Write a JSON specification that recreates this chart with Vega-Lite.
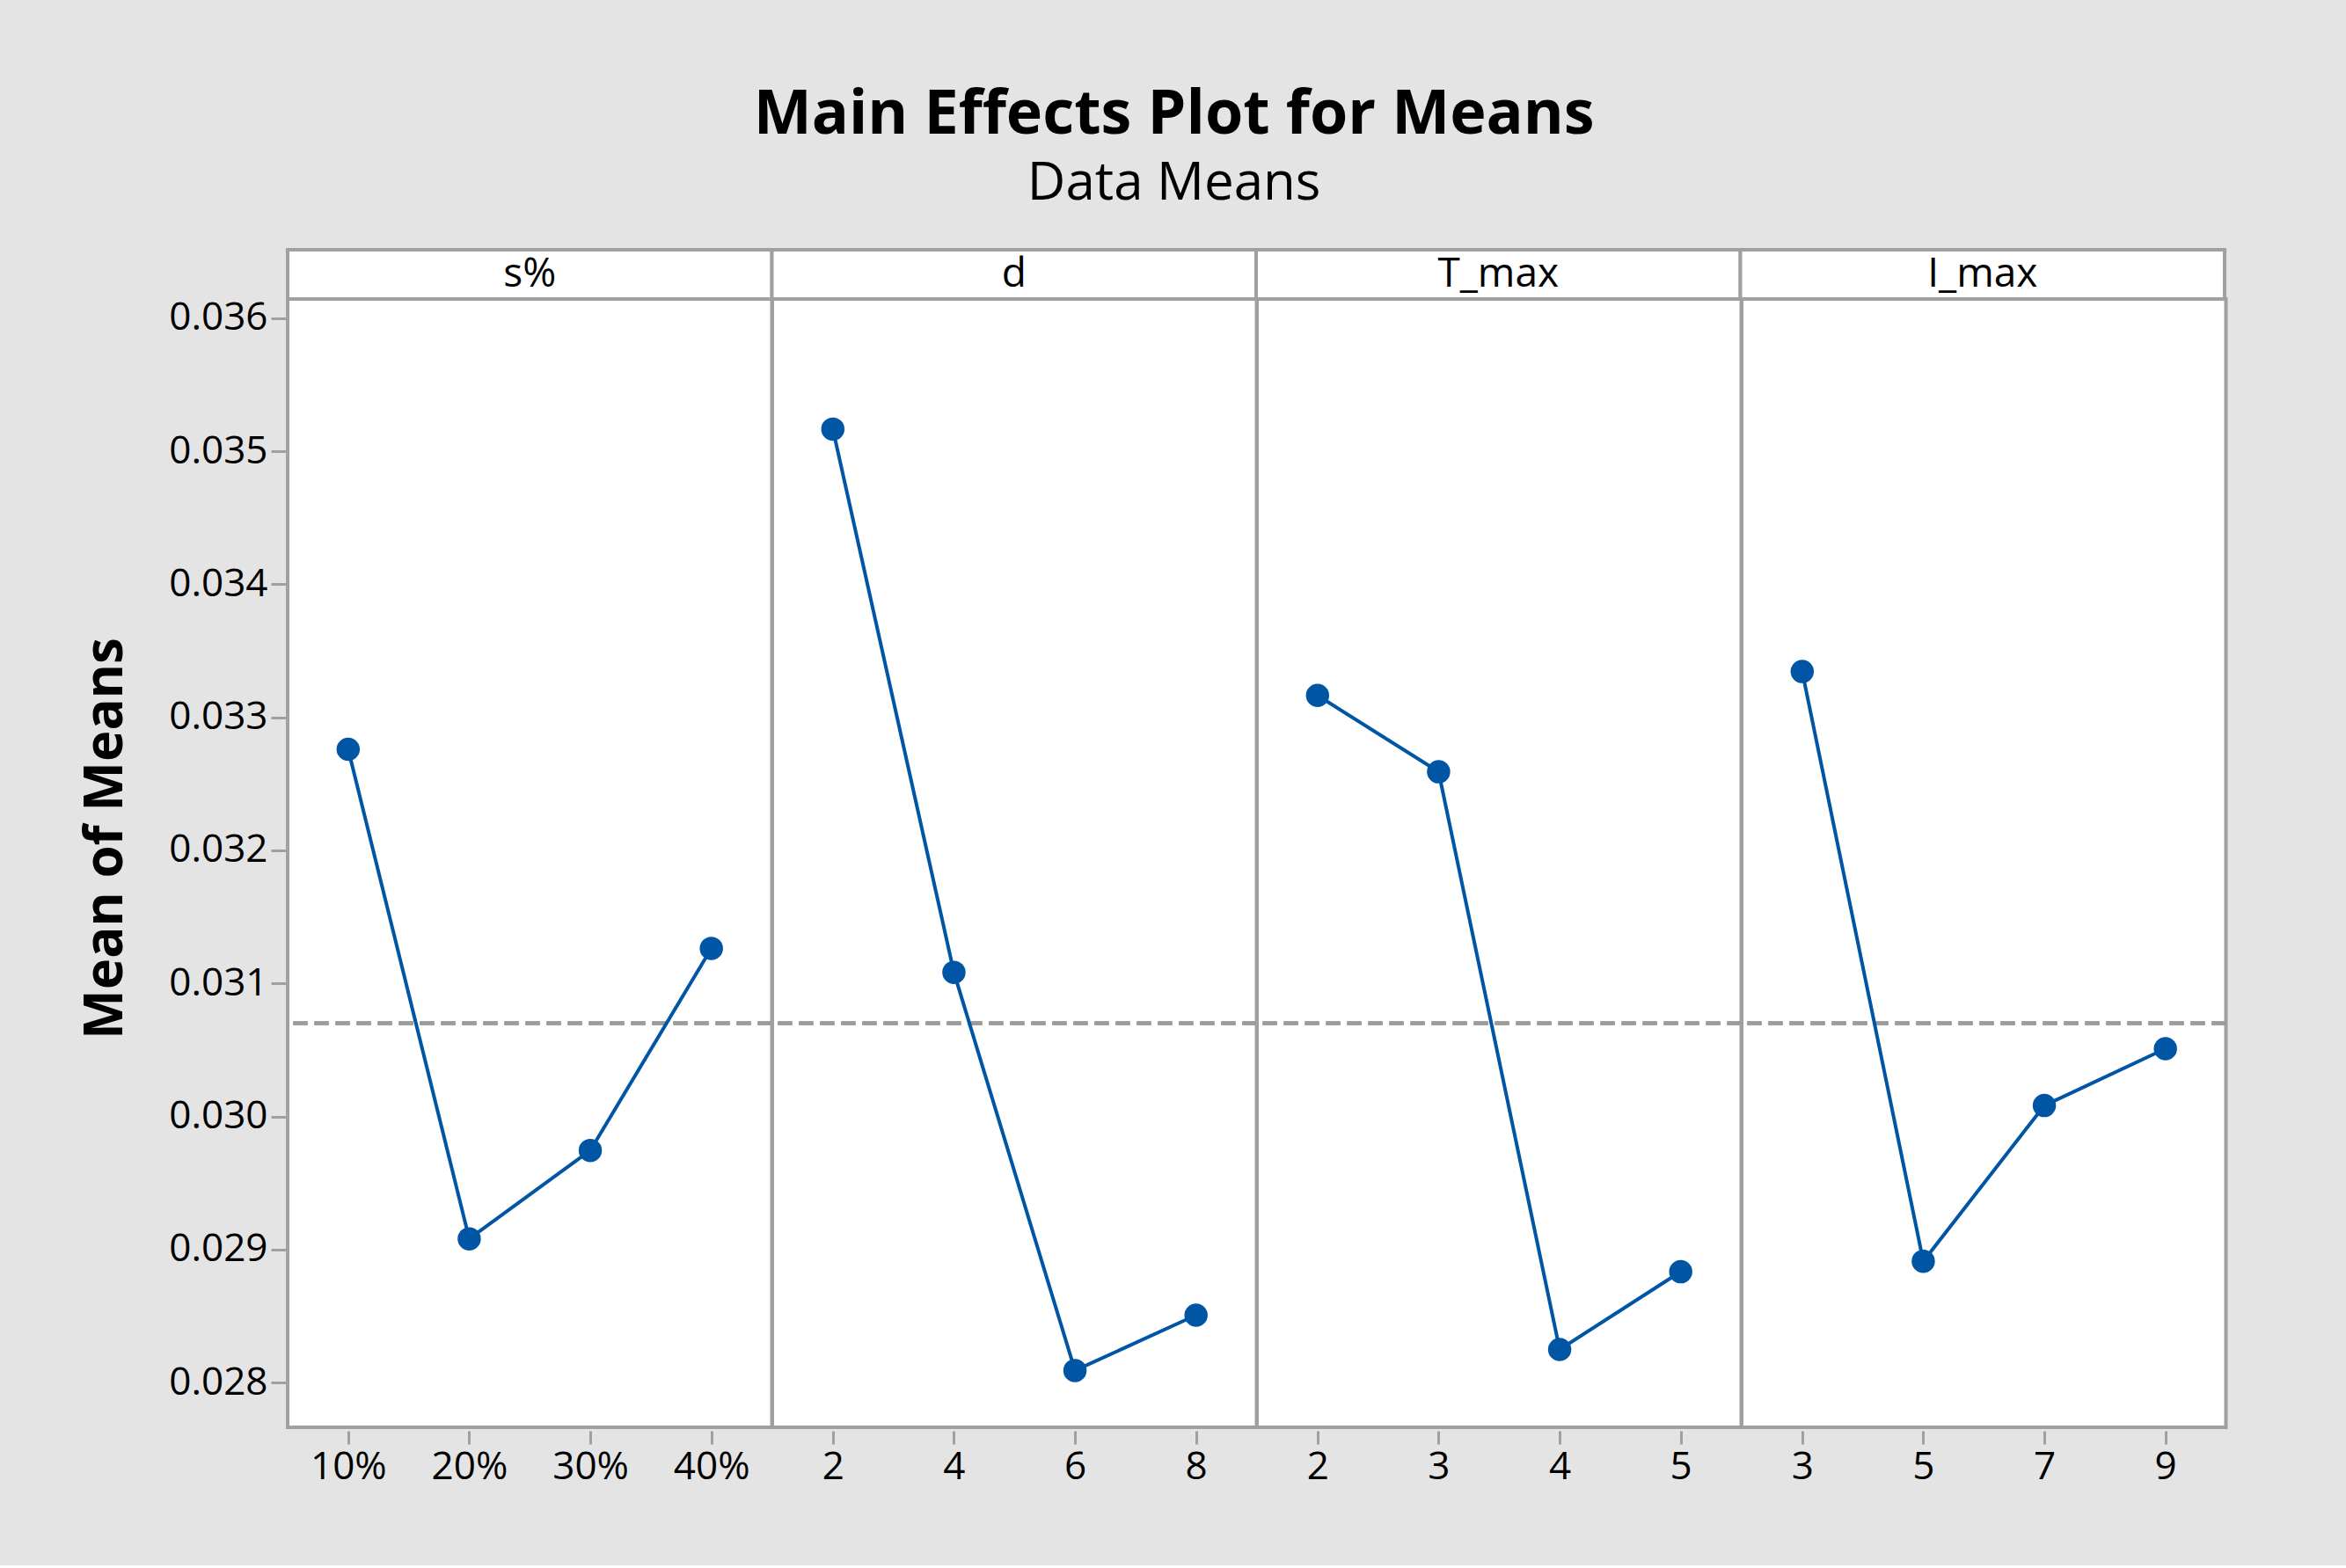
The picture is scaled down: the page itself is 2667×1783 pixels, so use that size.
{
  "$schema": "https://vega.github.io/schema/vega-lite/v6.json",
  "background": "#e4e4e4",
  "padding": {"left": 90, "top": 96, "right": 134, "bottom": 88},
  "title": {
    "text": "Main Effects Plot for Means",
    "subtitle": "Data Means",
    "anchor": "middle",
    "frame": "bounds",
    "font": "Open Sans",
    "fontSize": 70,
    "fontWeight": "bold",
    "color": "black",
    "subtitleFont": "Open Sans",
    "subtitleFontSize": 60,
    "subtitleColor": "black",
    "subtitlePadding": 13,
    "offset": 40,
    "dx": 22
  },
  "datasets": {
    "means": [
      {"factor": "s%", "level": "10%", "mean": 0.03276},
      {"factor": "s%", "level": "20%", "mean": 0.02908},
      {"factor": "s%", "level": "30%", "mean": 0.029744},
      {"factor": "s%", "level": "40%", "mean": 0.031263},
      {"factor": "d", "level": "2", "mean": 0.035167},
      {"factor": "d", "level": "4", "mean": 0.031083},
      {"factor": "d", "level": "6", "mean": 0.02809},
      {"factor": "d", "level": "8", "mean": 0.028506},
      {"factor": "T_max", "level": "2", "mean": 0.033165},
      {"factor": "T_max", "level": "3", "mean": 0.032591},
      {"factor": "T_max", "level": "4", "mean": 0.028248},
      {"factor": "T_max", "level": "5", "mean": 0.028833},
      {"factor": "I_max", "level": "3", "mean": 0.033345},
      {"factor": "I_max", "level": "5", "mean": 0.028911},
      {"factor": "I_max", "level": "7", "mean": 0.030082},
      {"factor": "I_max", "level": "9", "mean": 0.030509}
    ],
    "factors": [
      {"factor": "s%"},
      {"factor": "d"},
      {"factor": "T_max"},
      {"factor": "I_max"}
    ]
  },
  "bounds": "flush",
  "spacing": 0,
  "vconcat": [
    {
      "data": {"name": "factors"},
      "width": 2202,
      "height": 56,
      "layer": [
        {
          "mark": {"type": "rect", "fill": "white", "stroke": "#a0a0a0", "strokeWidth": 4},
          "encoding": {
            "x": {"field": "factor", "type": "nominal", "sort": ["s%", "d", "T_max", "I_max"], "scale": {"type": "band", "paddingInner": 0, "paddingOuter": 0}, "axis": null}
          }
        },
        {
          "mark": {"type": "text", "font": "Open Sans", "fontSize": 46, "color": "black", "baseline": "middle"},
          "encoding": {
            "x": {"field": "factor", "type": "nominal", "sort": ["s%", "d", "T_max", "I_max"], "scale": {"type": "band", "paddingInner": 0, "paddingOuter": 0}, "axis": null},
            "text": {"field": "factor"}
          }
        }
      ]
    },
    {
      "data": {"name": "means"},
      "facet": {
        "column": {"field": "factor", "type": "nominal", "sort": ["s%", "d", "T_max", "I_max"], "header": {"title": null, "labels": false}}
      },
      "spacing": 0,
      "bounds": "flush",
      "spec": {
        "width": 550.5,
        "height": 1283,
        "layer": [
          {
            "mark": {"type": "rule", "color": "#9b9b9b", "strokeWidth": 4, "strokeDash": [16, 8]},
            "encoding": {"y": {"datum": 0.0307, "type": "quantitative"}}
          },
          {
            "mark": {"type": "line", "color": "#0055a5", "strokeWidth": 4},
            "encoding": {
              "x": {
                "field": "level", "type": "ordinal",
                "scale": {"type": "point", "padding": 0.5},
                "axis": {"title": null, "labelAngle": 0, "tickSize": 15, "offset": 4, "labelPadding": 4}
              },
              "y": {
                "field": "mean", "type": "quantitative",
                "scale": {"domain": [0.027663, 0.036145], "nice": false, "zero": false},
                "axis": {
                  "title": "Mean of Means",
                  "values": [0.028, 0.029, 0.030, 0.031, 0.032, 0.033, 0.034, 0.035, 0.036],
                  "format": ".3f",
                  "tickSize": 19,
                  "labelPadding": 4,
                  "titleFontSize": 60,
                  "titleFontWeight": "bold",
                  "titlePadding": 40,
                  "titleY": 613
                }
              }
            }
          },
          {
            "mark": {"type": "point", "filled": true, "color": "#0055a5", "opacity": 1, "size": 700},
            "encoding": {
              "x": {"field": "level", "type": "ordinal"},
              "y": {"field": "mean", "type": "quantitative"}
            }
          }
        ]
      },
      "resolve": {"scale": {"x": "independent"}}
    }
  ],
  "config": {
    "view": {"stroke": "#a0a0a0", "strokeWidth": 4, "fill": "white"},
    "axis": {
      "domain": false,
      "grid": false,
      "tickColor": "#a0a0a0",
      "tickWidth": 3,
      "labelFont": "Open Sans",
      "labelFontSize": 44,
      "labelColor": "black",
      "titleFont": "Open Sans",
      "titleColor": "black"
    }
  }
}
